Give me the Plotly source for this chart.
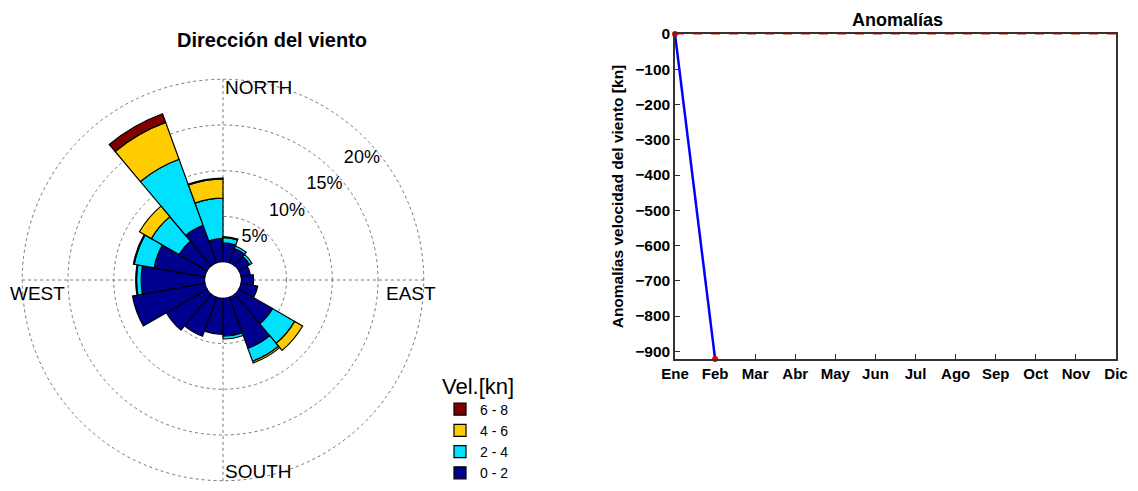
import plotly.graph_objects as go

# wind rose data: 18 sectors of 20 degrees, frequency in %
directions = [10, 30, 50, 70, 90, 110, 130, 150, 170, 190, 210, 230, 250, 270, 290, 310, 330, 350]
speed_bins = ['0 - 2', '2 - 4', '4 - 6', '6 - 8']
freq_0_2 = [2.1, 1.7, 1.4, 1.1, 1.4, 1.9, 4.3, 6.0, 4.2, 4.0, 4.6, 5.2, 8.1, 7.0, 5.7, 3.6, 4.4, 2.6]
freq_2_4 = [0.6, 0.3, 0.3, 0.0, 0.0, 0.0, 2.8, 1.5, 0.3, 0.0, 0.0, 0.0, 0.0, 0.5, 2.2, 3.5, 7.7, 4.4]
freq_4_6 = [0.1, 0.0, 0.0, 0.0, 0.0, 0.0, 1.0, 0.2, 0.0, 0.0, 0.0, 0.0, 0.0, 0.1, 0.1, 1.5, 4.3, 2.1]
freq_6_8 = [0.0, 0.0, 0.0, 0.0, 0.0, 0.0, 0.0, 0.0, 0.0, 0.0, 0.0, 0.0, 0.0, 0.0, 0.0, 0.0, 1.0, 0.1]
rose_ticks = [5, 10, 15, 20]
rose_ticktext = ['5%', '10%', '15%', '20%']

# anomalies
months = ['Ene', 'Feb', 'Mar', 'Abr', 'May', 'Jun', 'Jul', 'Ago', 'Sep', 'Oct', 'Nov', 'Dic']
anomalies = [0, -922]
anom_ticks = [0, -100, -200, -300, -400, -500, -600, -700, -800, -900]

colors = ['#00008f', '#00e0ff', '#ffcc00', '#800000']
font = 'Liberation Sans'
OFF = 8  # page body margin
W, H = 1138 - 2 * OFF, 491 - 2 * OFF


def px(x):
    return (x - OFF) / W


def py(y):
    return min(1, max(0, 1 - (y - OFF) / H))


fig = go.Figure()

for name, vals, col in zip(speed_bins, [freq_0_2, freq_2_4, freq_4_6, freq_6_8], colors):
    fig.add_trace(go.Barpolar(r=vals, theta=directions, width=20, name=name,
                              marker=dict(color=col, line=dict(color='black', width=1.2)),
                              subplot='polar'))

fig.add_trace(go.Scatter(x=months[:len(anomalies)], y=anomalies, mode='lines+markers',
                         line=dict(color='blue', width=2.5),
                         marker=dict(color='red', size=6),
                         cliponaxis=False, showlegend=False,
                         xaxis='x', yaxis='y'))
fig.add_hline(y=0, line=dict(color='red', width=1, dash='dash'))

fig.update_layout(
    width=W, height=H,
    margin=dict(l=0, r=0, t=0, b=0, autoexpand=False),
    paper_bgcolor='white', plot_bgcolor='white',
    font=dict(family=font, color='black'),
    polar=dict(
        domain=dict(x=[px(20), px(426)], y=[py(491), py(77)]),
        hole=0.088,
        bgcolor='white',
        barmode='stack',
        angularaxis=dict(rotation=90, direction='clockwise', tickvals=[0, 90, 180, 270],
                         showticklabels=False, ticks='', showline=False,
                         gridcolor='#777777', griddash='dot', gridwidth=1),
        radialaxis=dict(range=[0, 20.25], tickvals=rose_ticks, ticktext=rose_ticktext,
                        angle=35, tickangle=35, side='counterclockwise', showline=False, ticks='',
                        gridcolor='#777777', griddash='dot', gridwidth=1,
                        tickfont=dict(size=18, family=font)),
    ),
    legend=dict(x=px(440), y=py(365), xanchor='left', yanchor='top',
                traceorder='reversed', font=dict(size=14, family=font),
                title=dict(text='Vel.[kn]', font=dict(size=22, family=font)),
                itemwidth=30, tracegroupgap=0, bgcolor='rgba(0,0,0,0)'),
    xaxis=dict(domain=[px(675), px(1116)], anchor='y', type='category', automargin=False,
               categoryorder='array', categoryarray=months, range=[0, 11],
               showline=True, linecolor='#333333', linewidth=1.5, mirror=True,
               ticks='inside', ticklen=5, tickcolor='#333333', showgrid=False,
               tickfont=dict(size=15, family=font, weight='bold')),
    yaxis=dict(domain=[py(359), py(34)], anchor='x', range=[-922, 0], automargin=False,
               tickvals=anom_ticks, showline=True, linecolor='#333333', linewidth=1.5,
               mirror=True, ticks='inside', ticklen=5, tickcolor='#333333',
               showgrid=False, zeroline=False,
               tickfont=dict(size=15.5, family=font, weight='bold'),
               title=dict(text='<b>Anomalías velocidad del viento [kn]</b>',
                          font=dict(size=15.5, family=font), standoff=8)),
)

# titles and compass labels
fig.add_annotation(text='<b>Dirección del viento</b>', x=px(272), y=py(40), xref='paper', yref='paper',
                   xanchor='center', yanchor='middle', showarrow=False, font=dict(size=20, family=font))
fig.add_annotation(text='<b>Anomalías</b>', x=px(897), y=1, xref='paper', yref='paper',
                   xanchor='center', yanchor='top', showarrow=False, font=dict(size=18, family=font))
for txt, x0, y0, anchor in [('NORTH', 223, 88, 'left'), ('EAST', 438, 293, 'right'),
                            ('WEST', 8, 293, 'left'), ('SOUTH', 223, 471, 'left')]:
    fig.add_annotation(text=txt, x=px(x0), y=py(y0), xref='paper', yref='paper',
                       xanchor=anchor, yanchor='middle', showarrow=False, font=dict(size=19, family=font))

fig.write_html('out.html')
